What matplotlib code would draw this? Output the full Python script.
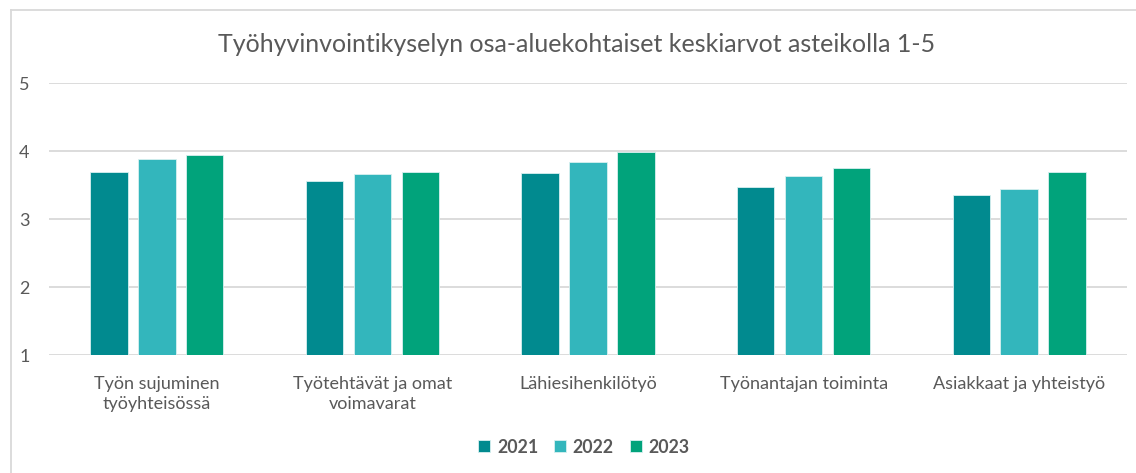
import numpy as np
import matplotlib.pyplot as plt
from matplotlib.lines import Line2D

categories = ['Työn sujuminen\ntyöyhteisössä', 'Työtehtävät ja omat\nvoimavarat',
              'Lähiesihenkilötyö', 'Työnantajan toiminta', 'Asiakkaat ja yhteistyö']
years = ['2021', '2022', '2023']
v2021 = [3.69, 3.56, 3.68, 3.48, 3.35]
v2022 = [3.88, 3.67, 3.84, 3.64, 3.45]
v2023 = [3.94, 3.70, 3.99, 3.75, 3.70]
colors = ['#018A8F', '#33B6BC', '#01A37B']

plt.rcParams['font.family'] = ['Lato', 'DejaVu Sans']
grey = '#595959'

fig = plt.figure(figsize=(11.36, 4.73), dpi=100)
ax = fig.add_axes([49/1136, 1-355.3/473, (1127-49)/1136, (355.3-83.3)/473])

x = np.arange(len(categories))
step = 0.222
width = 0.174
for i, (vals, yr) in enumerate(zip([v2021, v2022, v2023], years)):
    ax.bar(x + (i-1)*step, np.array(vals) - 1, width, bottom=1, color=colors[i],
           edgecolor='#d8f0f0', linewidth=0.6, label=yr, zorder=3)

ax.set_xlim(-0.5, len(categories)-0.5)
ax.set_ylim(1, 5)
ax.set_yticks([1, 2, 3, 4, 5])
ax.grid(axis='y', color='#d9d9d9', linewidth=1.3, zorder=0)
for s in ax.spines.values():
    s.set_visible(False)
ax.tick_params(axis='both', length=0, colors=grey, labelsize=13)
ax.tick_params(axis='y', pad=14)
ax.tick_params(axis='x', pad=15)
ax.set_xticks(x)
ax.set_xticklabels(categories, linespacing=1.3)

fig.text(577/1136, 1-45/473, 'Työhyvinvointikyselyn osa-aluekohtaiset keskiarvot asteikolla 1-5',
         ha='center', va='center', fontsize=18, color=grey)

leg = fig.legend(loc='center', bbox_to_anchor=(584/1136, 1-447/473), ncol=3, frameon=False,
                 handlelength=0.65, handleheight=0.65, handletextpad=0.4, columnspacing=0.9,
                 prop={'weight': 'bold', 'size': 12.8})
for t in leg.get_texts():
    t.set_color(grey)

# chart frame
fig.add_artist(Line2D([10.5/1136, 10.5/1136], [0, 1-10.5/473], transform=fig.transFigure,
                      color='#d9d9d9', linewidth=1.3))
fig.add_artist(Line2D([10.5/1136, 1], [1-10.5/473, 1-10.5/473], transform=fig.transFigure,
                      color='#d9d9d9', linewidth=1.3))

fig.savefig('out.png', dpi=100, facecolor='w')
